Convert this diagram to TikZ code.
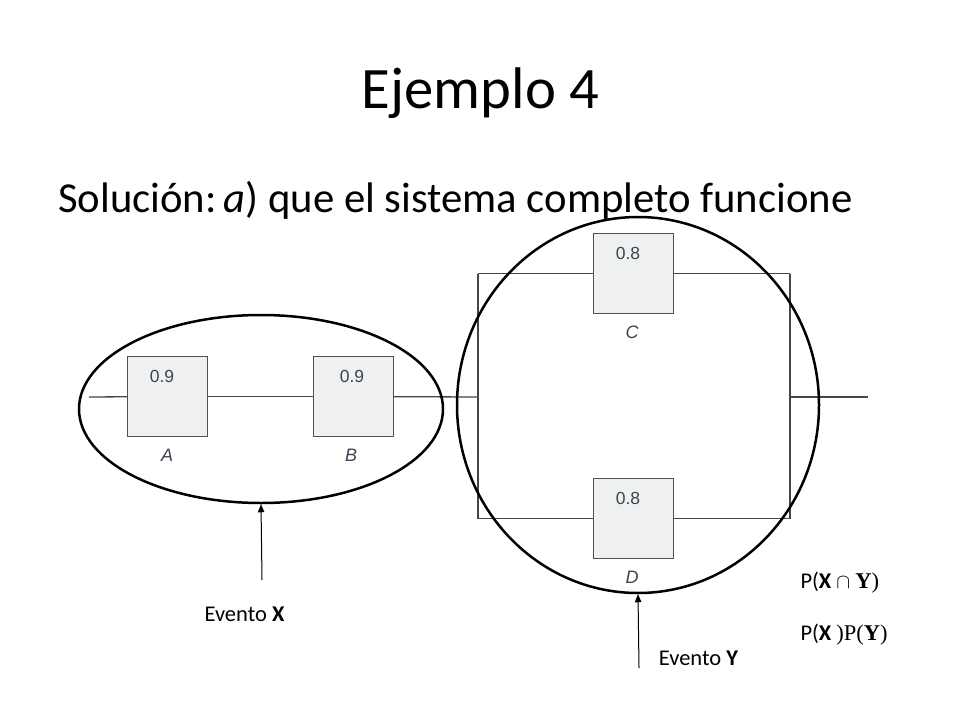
\documentclass[tikz,border=0pt]{standalone}
\usepackage{fontspec}
\setmainfont{Carlito}
\newfontfamily\helv{Liberation Sans}
\newfontfamily\tnr{Liberation Serif}
\usetikzlibrary{arrows.meta,shapes.geometric}
\definecolor{wire}{HTML}{454545}
\definecolor{boxfill}{HTML}{EFF1F1}
\definecolor{boxline}{HTML}{505050}
\definecolor{lbl}{HTML}{3E4350}
\tikzset{
  compbox/.style={draw=boxline, fill=boxfill, line width=1.3pt, minimum size=80pt, inner sep=0pt},
  wireline/.style={draw=wire, line width=1.3pt},
  valtext/.style={font=\helv\fontsize{17.5}{19}\selectfont, text=lbl},
  nametext/.style={font=\helv\itshape\fontsize{18}{20}\selectfont, text=lbl},
  event/.style={draw=black, line width=2.5pt, shape=ellipse, inner sep=0pt},
  pointer/.style={draw=black, line width=1pt, -{Triangle[length=8pt,width=6.5pt]}},
  evtext/.style={font=\fontsize{22.5}{24}\selectfont},
  ptext/.style={font=\fontsize{22.5}{24}\selectfont, anchor=base west}
}
\begin{document}
\begin{tikzpicture}[x=1pt,y=1pt]
\path[use as bounding box, fill=white] (0,0) rectangle (960,-720);

% titles
\node[font=\fontsize{58.7}{62}\selectfont, anchor=base, inner sep=0pt] (title) at (480.5,-108) {Ejemplo 4};
\node[font=\fontsize{42.7}{46}\selectfont, anchor=base west, inner sep=0pt] (sub) at (58,-212) {Solución:\,\textit{a}) que el sistema completo funcione};

% components
\node[compbox] (A) at (167.5,-396.5) {};
\node[compbox] (B) at (353.5,-396.5) {};
\node[compbox] (C) at (633.5,-273.5) {};
\node[compbox] (D) at (633.5,-518.5) {};

\node[valtext] (vA) at (162,-376) {0.9};
\node[valtext] (vB) at (352,-376) {0.9};
\node[valtext] (vC) at (628,-253) {0.8};
\node[valtext] (vD) at (628,-498) {0.8};

\node[nametext] (nA) at (167,-455) {A};
\node[nametext] (nB) at (351,-455) {B};
\node[nametext] (nC) at (632,-332) {C};
\node[nametext] (nD) at (632,-577) {D};

% wiring
\coordinate (in)  at (89,-397);
\coordinate (jl)  at (478,-397);
\coordinate (tl)  at (478,-273.5);
\coordinate (bl)  at (478,-518.5);
\coordinate (tr)  at (790,-273.5);
\coordinate (br)  at (790,-518.5);
\coordinate (jr)  at (790,-397);
\coordinate (out) at (868,-397);

\draw[wireline] (in) -- (A);
\draw[wireline] (A) -- (B);
\draw[wireline] (B) -- (jl);
\draw[wireline] (tl) -- (bl);
\draw[wireline] (tl) -- (C);
\draw[wireline] (C) -- (tr);
\draw[wireline] (tr) -- (br);
\draw[wireline] (bl) -- (D);
\draw[wireline] (D) -- (br);
\draw[wireline] (jr) -- (out);

% events
\node[event, minimum width=364pt, minimum height=188pt] (EX) at (261,-409) {};
\node[event, minimum width=362pt, minimum height=376pt] (EY) at (638,-405) {};

\coordinate (px) at (262,-580);
\coordinate (py) at (639,-668);
\draw[pointer] (px) -- (EX.south);
\draw[pointer] (py) -- (EY.south);

\node[evtext] (tX) at (244.5,-614) {Evento \textbf{X}};
\node[evtext] (tY) at (698.5,-658) {Evento \textbf{Y}};

\node[ptext] (p1) at (797,-588) {P(\textbf{X} $\cap$ {\tnr\textbf{Y})}};
\node[ptext] (p2) at (797,-640) {P(\textbf{X} {\tnr )P(\textbf{Y})}};
\end{tikzpicture}
\end{document}
